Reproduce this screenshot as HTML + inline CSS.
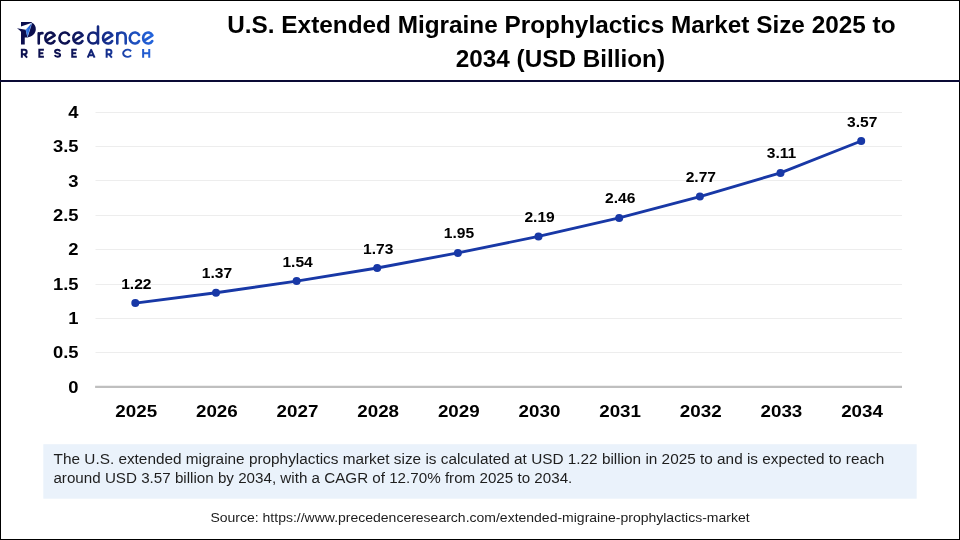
<!DOCTYPE html>
<html><head><meta charset="utf-8">
<style>
html,body{margin:0;padding:0;background:#fff;}
body{width:960px;height:540px;position:relative;overflow:hidden;font-family:"Liberation Sans",sans-serif;}
svg{position:absolute;left:0;top:0;font-family:"Liberation Sans",sans-serif;}
</style></head><body>
<svg width="960" height="540" viewBox="0 0 960 540">
<rect x="0.5" y="0.5" width="959" height="539" fill="#fff" stroke="#000" stroke-width="1"/>
<rect x="0" y="80" width="960" height="2" fill="#0a0a35"/>
<rect x="43.3" y="444.2" width="873.4" height="54.5" fill="#eaf2fb"/>
<defs>
<linearGradient id="lg" gradientUnits="userSpaceOnUse" x1="66" y1="0" x2="156" y2="0">
<stop offset="0" stop-color="#0d1150"/><stop offset="0.45" stop-color="#152e8c"/><stop offset="1" stop-color="#2468e2"/>
</linearGradient>
<linearGradient id="tri" gradientUnits="userSpaceOnUse" x1="25" y1="30" x2="31" y2="30">
<stop offset="0" stop-color="#5a98f0"/><stop offset="0.5" stop-color="#2a6fe0"/><stop offset="1" stop-color="#1d55c8"/>
</linearGradient>
</defs>
<g id="logo">
<g fill="#0b0e4e">
<path d="M21,22 L31.75,22 L31.9,22.7 L21,26.5 Z"/>
<path d="M17,28.2 L25.75,29.7 L27.3,36.6 L27.7,37.4 L24.75,37.6 L24.75,44.4 L21,44.4 L21,31.8 Q19.6,29.8 17,28.2 Z"/>
<path d="M32.0,22.85 C34.6,23.9 35.95,26.6 35.8,29.6 C35.6,33.6 32.1,37 27.4,37.5 Z"/>
</g>
<path d="M25.6,29.7 L31.9,23.0 L27.3,37.0 Z" fill="url(#tri)"/><path d="M32.0,23.0 L27.4,37.1" stroke="#8fb8f3" stroke-width="0.35" fill="none"/>
<g fill="none" stroke="url(#lg)" stroke-width="2.6" stroke-linecap="round" stroke-linejoin="round">
<path d="M38.75,43.4 V33.3 M38.75,37.0 C38.75,34.0 40.3,32.9 42.5,33.1"/>
<path d="M46.00,40.80 L54.65,35.30 A5.0,5.5 0 1 0 54.50,41.00"/>
<path d="M69.00,35.00 A5.2,5.5 0 1 0 69.00,41.00"/>
<path d="M74.00,40.80 L82.65,35.30 A5.0,5.5 0 1 0 82.50,41.00"/>
<path d="M98.0,26.6 V43.4 M98.0,38 A4.9,5.5 0 1 0 88.2,38 A4.9,5.5 0 1 0 98.0,38"/>
<path d="M103.70,40.80 L112.35,35.30 A5.0,5.5 0 1 0 112.20,41.00"/>
<path d="M117.3,43.4 V33.3 M117.3,37.2 C117.3,34 119,32.5 121.5,32.5 C124,32.5 125.7,34 125.7,37.2 V43.4"/>
<path d="M139.10,35.00 A5.1,5.5 0 1 0 139.10,41.00"/>
<path d="M143.80,40.80 L152.45,35.30 A5.0,5.5 0 1 0 152.30,41.00"/>
</g>
<g fill="none" stroke="url(#lg)" stroke-width="2.0" stroke-linecap="butt" stroke-linejoin="miter">
<path d="M21.85,48.9 V57.7 M20.90,49.85 H24.40 A2.25,2.25 0 0 1 24.40,54.35 H21.85 M24.20,54.35 L27.10,57.7"/>
<path d="M43.90,49.85 H39.35 V56.75 H43.90 M39.35,53.3 H43.30"/>
<path d="M60.1,51.3 C59.7,50.3 58.8,49.85 57.5,49.85 C56.0,49.85 55.1,50.6 55.1,51.6 C55.1,52.7 56.0,53.0 57.6,53.35 C59.3,53.7 60.1,54.2 60.1,55.1 C60.1,56.1 59.1,56.75 57.6,56.75 C56.2,56.75 55.2,56.3 54.7,55.2"/>
<path d="M76.80,49.85 H72.25 V56.75 H76.80 M72.25,53.3 H76.20"/>
<path stroke-linejoin="round" d="M87.70,57.7 L91.15,49.9 L94.60,57.7 M88.90,55.3 H93.40"/>
<path d="M106.65,48.9 V57.7 M105.70,49.85 H109.20 A2.25,2.25 0 0 1 109.20,54.35 H106.65 M109.00,54.35 L111.90,57.7"/>
<path d="M131.1,51.2 A4.4,3.5 0 1 0 131.1,55.4"/>
<path d="M143.15,48.9 V57.7 M149.25,48.9 V57.7 M143.15,53.2 H149.25"/>
</g>
</g>
<g stroke="#ededed" stroke-width="1"><line x1="95.5" x2="902" y1="352.5" y2="352.5"/><line x1="95.5" x2="902" y1="318.5" y2="318.5"/><line x1="95.5" x2="902" y1="284.5" y2="284.5"/><line x1="95.5" x2="902" y1="249.5" y2="249.5"/><line x1="95.5" x2="902" y1="215.5" y2="215.5"/><line x1="95.5" x2="902" y1="180.5" y2="180.5"/><line x1="95.5" x2="902" y1="146.5" y2="146.5"/><line x1="95.5" x2="902" y1="112.5" y2="112.5"/></g>
<line x1="95.1" x2="902" y1="386.9" y2="386.9" stroke="#bfbfbf" stroke-width="2.1"/>
<polyline fill="none" stroke="#1838a6" stroke-width="2.9" stroke-linejoin="round" points="135.3,303.1 216.0,292.8 296.6,281.1 377.2,268.0 457.9,252.9 538.5,236.4 619.2,217.9 699.9,196.6 780.5,172.9 861.2,141.0"/>
<g fill="#1838a6"><circle cx="135.3" cy="303.1" r="4"/><circle cx="216.0" cy="292.8" r="4"/><circle cx="296.6" cy="281.1" r="4"/><circle cx="377.2" cy="268.0" r="4"/><circle cx="457.9" cy="252.9" r="4"/><circle cx="538.5" cy="236.4" r="4"/><circle cx="619.2" cy="217.9" r="4"/><circle cx="699.9" cy="196.6" r="4"/><circle cx="780.5" cy="172.9" r="4"/><circle cx="861.2" cy="141.0" r="4"/></g>
<g style="filter:grayscale(1)">
<text transform="translate(561.40,32.60) scale(1.032,1)" font-size="23.6" font-weight="bold" text-anchor="middle" fill="#000">U.S. Extended Migraine Prophylactics Market Size 2025 to</text><text transform="translate(560.40,66.80) scale(1.03,1)" font-size="23.6" font-weight="bold" text-anchor="middle" fill="#000">2034 (USD Billion)</text>
<text transform="translate(78.60,392.75) scale(1.15,1)" font-size="16" font-weight="bold" text-anchor="end" fill="#000">0</text><text transform="translate(78.60,358.40) scale(1.15,1)" font-size="16" font-weight="bold" text-anchor="end" fill="#000">0.5</text><text transform="translate(78.60,324.05) scale(1.15,1)" font-size="16" font-weight="bold" text-anchor="end" fill="#000">1</text><text transform="translate(78.60,289.70) scale(1.15,1)" font-size="16" font-weight="bold" text-anchor="end" fill="#000">1.5</text><text transform="translate(78.60,255.35) scale(1.15,1)" font-size="16" font-weight="bold" text-anchor="end" fill="#000">2</text><text transform="translate(78.60,221.00) scale(1.15,1)" font-size="16" font-weight="bold" text-anchor="end" fill="#000">2.5</text><text transform="translate(78.60,186.65) scale(1.15,1)" font-size="16" font-weight="bold" text-anchor="end" fill="#000">3</text><text transform="translate(78.60,152.30) scale(1.15,1)" font-size="16" font-weight="bold" text-anchor="end" fill="#000">3.5</text><text transform="translate(78.60,117.95) scale(1.15,1)" font-size="16" font-weight="bold" text-anchor="end" fill="#000">4</text>
<text transform="translate(136.20,416.80) scale(1.16,1)" font-size="16.2" font-weight="bold" text-anchor="middle" fill="#000">2025</text><text transform="translate(216.85,416.80) scale(1.16,1)" font-size="16.2" font-weight="bold" text-anchor="middle" fill="#000">2026</text><text transform="translate(297.50,416.80) scale(1.16,1)" font-size="16.2" font-weight="bold" text-anchor="middle" fill="#000">2027</text><text transform="translate(378.15,416.80) scale(1.16,1)" font-size="16.2" font-weight="bold" text-anchor="middle" fill="#000">2028</text><text transform="translate(458.80,416.80) scale(1.16,1)" font-size="16.2" font-weight="bold" text-anchor="middle" fill="#000">2029</text><text transform="translate(539.45,416.80) scale(1.16,1)" font-size="16.2" font-weight="bold" text-anchor="middle" fill="#000">2030</text><text transform="translate(620.10,416.80) scale(1.16,1)" font-size="16.2" font-weight="bold" text-anchor="middle" fill="#000">2031</text><text transform="translate(700.75,416.80) scale(1.16,1)" font-size="16.2" font-weight="bold" text-anchor="middle" fill="#000">2032</text><text transform="translate(781.40,416.80) scale(1.16,1)" font-size="16.2" font-weight="bold" text-anchor="middle" fill="#000">2033</text><text transform="translate(862.05,416.80) scale(1.16,1)" font-size="16.2" font-weight="bold" text-anchor="middle" fill="#000">2034</text>
<text transform="translate(136.30,288.59) scale(1.1,1)" font-size="14.2" font-weight="bold" text-anchor="middle" fill="#000">1.22</text><text transform="translate(216.95,278.28) scale(1.1,1)" font-size="14.2" font-weight="bold" text-anchor="middle" fill="#000">1.37</text><text transform="translate(297.60,266.60) scale(1.1,1)" font-size="14.2" font-weight="bold" text-anchor="middle" fill="#000">1.54</text><text transform="translate(378.25,253.55) scale(1.1,1)" font-size="14.2" font-weight="bold" text-anchor="middle" fill="#000">1.73</text><text transform="translate(458.90,238.43) scale(1.1,1)" font-size="14.2" font-weight="bold" text-anchor="middle" fill="#000">1.95</text><text transform="translate(539.55,221.95) scale(1.1,1)" font-size="14.2" font-weight="bold" text-anchor="middle" fill="#000">2.19</text><text transform="translate(620.20,203.40) scale(1.1,1)" font-size="14.2" font-weight="bold" text-anchor="middle" fill="#000">2.46</text><text transform="translate(700.85,182.10) scale(1.1,1)" font-size="14.2" font-weight="bold" text-anchor="middle" fill="#000">2.77</text><text transform="translate(781.50,158.40) scale(1.1,1)" font-size="14.2" font-weight="bold" text-anchor="middle" fill="#000">3.11</text><text transform="translate(862.15,126.50) scale(1.1,1)" font-size="14.2" font-weight="bold" text-anchor="middle" fill="#000">3.57</text>
<text transform="translate(53.60,463.80) scale(1.045,1)" font-size="14.7" text-anchor="start" fill="#1e1e1e">The U.S. extended migraine prophylactics market size is calculated at USD 1.22 billion in 2025 to and is expected to reach</text><text transform="translate(53.40,483.30) scale(1.033,1)" font-size="14.7" text-anchor="start" fill="#1e1e1e">around USD 3.57 billion by 2034, with a CAGR of 12.70% from 2025 to 2034.</text>
<text transform="translate(480.00,521.80) scale(1.078,1)" font-size="13" text-anchor="middle" fill="#1c1c1c">Source: https://www.precedenceresearch.com/extended-migraine-prophylactics-market</text>
</g>
</svg>
</body></html>
